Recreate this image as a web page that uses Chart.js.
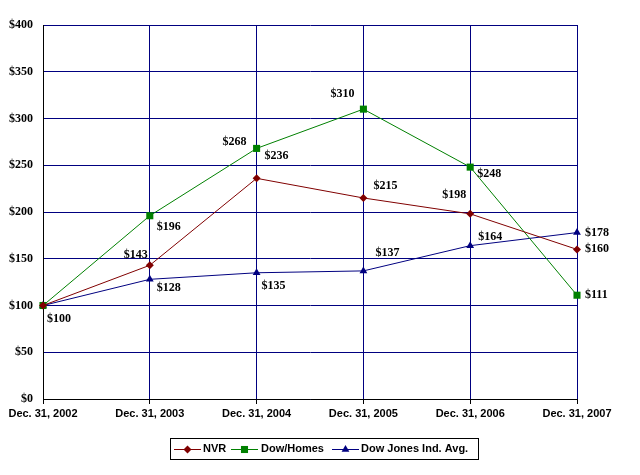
<!DOCTYPE html>
<html>
<head>
<meta charset="utf-8">
<script src="https://cdn.jsdelivr.net/npm/chart.js@4"></script>
<style>
  body { margin: 0; background: #fff; }
  #chart { display: block; }
</style>
</head>
<body>
<canvas id="chart" width="640" height="475"></canvas>
<script>
const years = ['Dec. 31, 2002', 'Dec. 31, 2003', 'Dec. 31, 2004', 'Dec. 31, 2005', 'Dec. 31, 2006', 'Dec. 31, 2007'];
const nvr = [100, 143, 236, 215, 198, 160];
const dowHomes = [100, 196, 268, 310, 248, 111];
const dowJones = [100, 128, 135, 137, 164, 178];

// where each value label sits relative to its point: [dx, dy, align], null = no label
const nvrLabelPos = [null, [-2, -10, 'right'], [8, -22, 'left'], [10, -12, 'left'], [-4, -19, 'right'], [8, 0, 'left']];
const homesLabelPos = [null, [7, 11, 'left'], [-10, -7, 'right'], [-9, -15, 'right'], [7, 7, 'left'], [8, 0, 'left']];
const djiaLabelPos = [[4, 13, 'left'], [7, 9, 'left'], [5, 13, 'left'], [12, -18, 'left'], [8, -9, 'left'], [8, 0, 'left']];

const serifBold = 'bold 12px "Liberation Serif", "Times New Roman", serif';
const sansBold = 'bold 11px "Liberation Sans", Arial, sans-serif';

// Draw the $ value next to each point
const valueLabels = {
    id: 'valueLabels',
    afterDatasetsDraw(chart) {
        const ctx = chart.ctx;
        ctx.save();
        ctx.font = serifBold;
        ctx.fillStyle = '#000';
        ctx.textBaseline = 'middle';
        chart.data.datasets.forEach((ds, i) => {
            const meta = chart.getDatasetMeta(i);
            meta.data.forEach((pt, j) => {
                const pos = ds.labelPos[j];
                if (!pos) return;
                ctx.textAlign = pos[2];
                ctx.fillText('$' + ds.data[j], pt.x + pos[0], pt.y + pos[1]);
            });
        });
        ctx.restore();
    }
};

// Boxed legend under the chart, line with marker in the middle
const boxLegend = {
    id: 'boxLegend',
    afterDraw(chart) {
        const ctx = chart.ctx;
        ctx.save();
        ctx.strokeStyle = '#000';
        ctx.lineWidth = 1;
        ctx.strokeRect(170.5, 438.5, 308, 21);
        const items = [
            { x: 174, textX: 203 },
            { x: 231, textX: 261 },
            { x: 332, textX: 361 }
        ];
        ctx.font = sansBold;
        ctx.textBaseline = 'middle';
        ctx.textAlign = 'left';
        chart.data.datasets.forEach((ds, i) => {
            const it = items[i];
            const y = 449;
            ctx.strokeStyle = ds.borderColor;
            ctx.lineWidth = 1;
            ctx.beginPath();
            ctx.moveTo(it.x, y + 0.5);
            ctx.lineTo(it.x + 27, y + 0.5);
            ctx.stroke();
            ctx.fillStyle = ds.pointBackgroundColor;
            Chart.helpers.drawPoint(ctx, {
                pointStyle: ds.pointStyle,
                radius: ds.pointRadius,
                rotation: 0,
                borderWidth: 0
            }, it.x + 13.5, y + 0.5);
            ctx.fillStyle = '#000';
            ctx.fillText(ds.label, it.textX, y);
        });
        ctx.restore();
    }
};

const ctx = document.getElementById('chart').getContext('2d');
new Chart(ctx, {
    type: 'line',
    data: {
        labels: years,
        datasets: [{
            label: 'NVR',
            data: nvr,
            borderColor: '#800000',
            pointBackgroundColor: '#800000',
            pointBorderColor: '#800000',
            pointStyle: 'rectRot',
            pointRadius: 4,
            labelPos: nvrLabelPos
        }, {
            label: 'Dow/Homes',
            data: dowHomes,
            borderColor: '#008000',
            pointBackgroundColor: '#008000',
            pointBorderColor: '#008000',
            pointStyle: 'rect',
            pointRadius: 5,
            labelPos: homesLabelPos
        }, {
            label: 'Dow Jones Ind. Avg.',
            data: dowJones,
            borderColor: '#000080',
            pointBackgroundColor: '#000080',
            pointBorderColor: '#000080',
            pointStyle: 'triangle',
            pointRadius: 4.5,
            labelPos: djiaLabelPos
        }]
    },
    options: {
        responsive: false,
        animation: false,
        devicePixelRatio: 1,
        elements: {
            line: { borderWidth: 1, tension: 0 },
            point: { borderWidth: 0, hoverRadius: 4 }
        },
        layout: { padding: { top: 25, right: 63, bottom: 36, left: 0 } },
        plugins: {
            legend: { display: false },
            tooltip: { enabled: false }
        },
        scales: {
            x: {
                offset: false,
                grid: { color: '#000080', lineWidth: 1, tickColor: '#000', tickLength: 5 },
                border: { color: '#000', width: 1 },
                ticks: { color: '#000', font: { family: '"Liberation Sans", Arial, sans-serif', size: 11, weight: 'bold' }, padding: 3, maxRotation: 0 },
                afterFit(scale) { scale.height = 40; }
            },
            y: {
                min: 0,
                max: 400,
                grid: { color: '#000080', lineWidth: 1, drawTicks: false },
                border: { color: '#000', width: 1 },
                ticks: {
                    stepSize: 50,
                    padding: 10,
                    color: '#000',
                    font: { family: '"Liberation Serif", "Times New Roman", serif', size: 12, weight: 'bold' },
                    callback: v => '$' + v
                },
                afterFit(scale) { scale.width = 43; }
            }
        }
    },
    plugins: [valueLabels, boxLegend]
});
</script>
</body>
</html>
